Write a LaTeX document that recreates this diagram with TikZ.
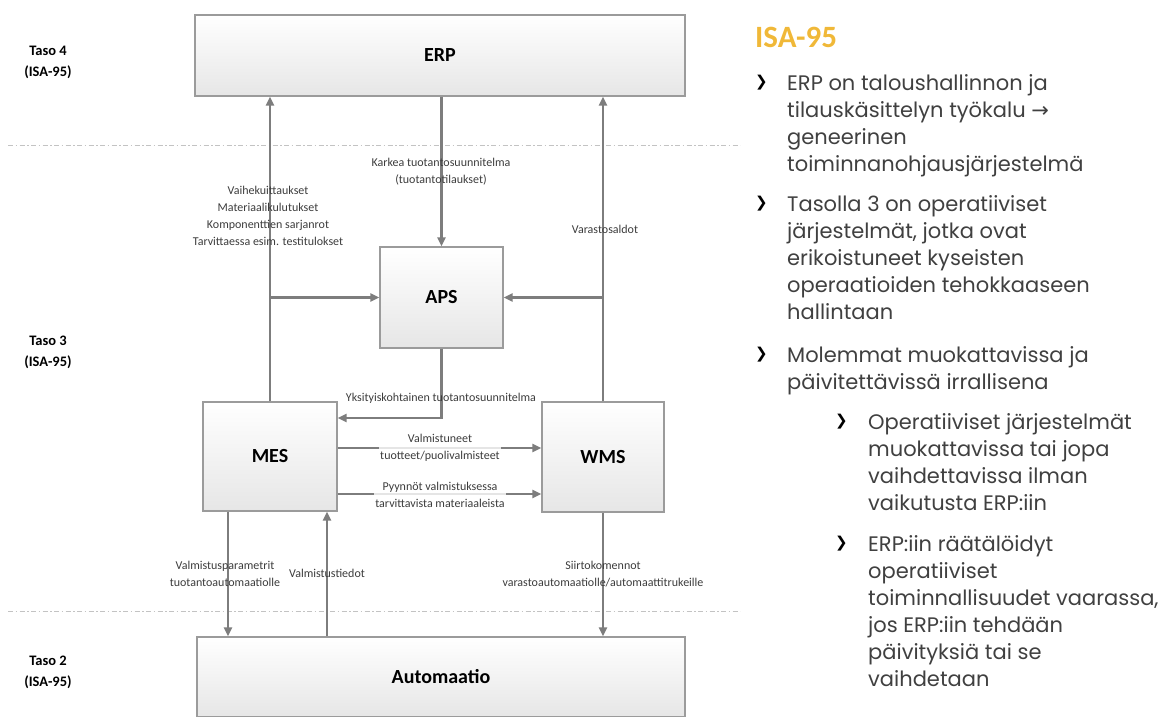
\documentclass[tikz,border=0pt]{standalone}
\usepackage{fontspec}
\setmainfont{Carlito}
\newfontfamily\carlito{Carlito}
\newfontfamily\gothic{Poppins}
\newfontfamily\symfont{DejaVu Sans}
\usetikzlibrary{arrows.meta,calc}

\definecolor{boxline}{RGB}{155,155,155}
\definecolor{boxbot}{RGB}{230,230,230}
\definecolor{arrgray}{RGB}{125,125,125}
\definecolor{labtext}{RGB}{60,60,60}
\definecolor{dashgray}{RGB}{195,195,195}
\definecolor{titleorange}{RGB}{240,184,56}
\definecolor{bodygray}{RGB}{64,64,64}

\tikzset{
  sysbox/.style={draw=boxline, line width=1.4pt, top color=white, bottom color=boxbot,
    inner sep=0pt, font=\carlito\bfseries\fontsize{20}{24}\selectfont, text=black},
  flow/.style={draw=arrgray, line width=2.3pt, -{Triangle[length=9pt,width=8pt]}},
  vlabel/.style={font=\carlito\fontsize{12}{17}\selectfont, text=labtext, align=center, inner sep=1pt},
  hlabel/.style={vlabel, fill=white, fill opacity=0.8, text opacity=1},
  levellabel/.style={font=\carlito\bfseries\fontsize{14.5}{21}\selectfont, text=black, align=center},
  levelsep/.style={draw=dashgray, line width=1pt, dash pattern=on 5pt off 2.5pt on 1.5pt off 2.5pt},
  para/.style={anchor=north west, inner sep=0pt, align=left, text=bodygray,
    font=\gothic\fontsize{21}{27}\selectfont},
  chevron/.style={anchor=west, inner sep=0pt, text=black, font=\symfont\bfseries\fontsize{15}{18}\selectfont},
}

\begin{document}
\begin{tikzpicture}[x=1pt, y=-1pt]
\useasboundingbox (0,0) rectangle (1162,716);

% level separators
\draw[levelsep] (8,145) -- (740,145);
\draw[levelsep] (8,611) -- (740,611);

% level labels
\node[levellabel] (taso4) at (48,62) {Taso 4\\(ISA-95)};
\node[levellabel] (taso3) at (48,352) {Taso 3\\(ISA-95)};
\node[levellabel] (taso2) at (48,672) {Taso 2\\(ISA-95)};

% systems
\node[sysbox, minimum width=490pt, minimum height=81pt] (erp) at (440,55.5) {ERP};
\node[sysbox, minimum width=123pt, minimum height=101pt] (aps) at (441.5,297.5) {APS};
\node[sysbox, minimum width=134pt, minimum height=109pt] (mes) at (270,456.5) {MES};
\node[sysbox, minimum width=122pt, minimum height=110pt] (wms) at (603,457) {WMS};
\node[sysbox, minimum width=488pt, minimum height=80pt] (auto) at (441,677) {Automaatio};

% routing points
\coordinate (mesup) at (mes.north |- aps.west);
\coordinate (wmsup) at (wms.north |- aps.east);
\coordinate (apsdown) at (441.5,418);
\coordinate (mesin) at (mes.east |- apsdown);
\coordinate (mesa) at (mes.east |- 0,448);
\coordinate (wmsa) at (wms.west |- 0,448);
\coordinate (mesb) at (mes.east |- 0,494);
\coordinate (wmsb) at (wms.west |- 0,494);
\coordinate (mesdn) at (228,0);
\coordinate (mesupb) at (327,0);

% level 4 <-> level 3
\draw[flow] (mes.north) -- (mes.north |- erp.south);
\draw[flow] (mesup) -- (aps.west);
\draw[flow] (aps.north |- erp.south) -- (aps.north);
\draw[flow] (wms.north) -- (wms.north |- erp.south);
\draw[flow] (wmsup) -- (aps.east);

% level 3 internal
\draw[flow] (aps.south) -- (apsdown) -- (mesin);
\draw[flow] (mesa) -- (wmsa);
\draw[flow] (mesb) -- (wmsb);

% level 3 <-> level 2
\draw[flow] (mes.south -| mesdn) -- (auto.north -| mesdn);
\draw[flow] (auto.north -| mesupb) -- (mes.south -| mesupb);
\draw[flow] (wms.south) -- (wms.south |- auto.north);

% flow labels
\node[vlabel] (lmes) at (268,215.5) {Vaihekuittaukset\\Materiaalikulutukset\\Komponenttien sarjanrot\\Tarvittaessa esim. testitulokset};
\node[vlabel] (lkarkea) at (441,172) {Karkea tuotantosuunnitelma\\(tuotantotilaukset)};
\node[vlabel] (lvarasto) at (605,229) {Varastosaldot};
\node[vlabel] (lyksi) at (441,398) {Yksityiskohtainen tuotantosuunnitelma};
\node[hlabel] (lvalm) at (440,448) {Valmistuneet\\tuotteet/puolivalmisteet};
\node[hlabel] (lpyyn) at (440,494.5) {Pyynnöt valmistuksessa\\tarvittavista materiaaleista};
\node[vlabel] (lparam) at (225,574) {Valmistusparametrit\\tuotantoautomaatiolle};
\node[vlabel] (ltiedot) at (327,573) {Valmistustiedot};
\node[vlabel] (lsiirto) at (603,574) {Siirtokomennot\\varastoautomaatiolle/automaattitrukeille};

% side text
\node[anchor=west, inner sep=0pt, text=titleorange, font=\carlito\bfseries\fontsize{31}{36}\selectfont] (title) at (755,37) {ISA-95};

\node[chevron] (c1) at (755,83) {❯};
\node[para] (p1) at (787,74) {ERP on taloushallinnon ja\\tilauskäsittelyn työkalu {\symfont →}\\geneerinen\\toiminnanohjausjärjestelmä};
\node[chevron] (c2) at (755,204) {❯};
\node[para] (p2) at (787,195) {Tasolla 3 on operatiiviset\\järjestelmät, jotka ovat\\erikoistuneet kyseisten\\operaatioiden tehokkaaseen\\hallintaan};
\node[chevron] (c3) at (755,355) {❯};
\node[para] (p3) at (787,346) {Molemmat muokattavissa ja\\päivitettävissä irrallisena};
\node[chevron] (c4) at (835,422) {❯};
\node[para] (p4) at (868,413) {Operatiiviset järjestelmät\\muokattavissa tai jopa\\vaihdettavissa ilman\\vaikutusta ERP:iin};
\node[chevron] (c5) at (835,544) {❯};
\node[para] (p5) at (868,535) {ERP:iin räätälöidyt\\operatiiviset\\toiminnallisuudet vaarassa,\\jos ERP:iin tehdään\\päivityksiä tai se\\vaihdetaan};
\end{tikzpicture}
\end{document}
